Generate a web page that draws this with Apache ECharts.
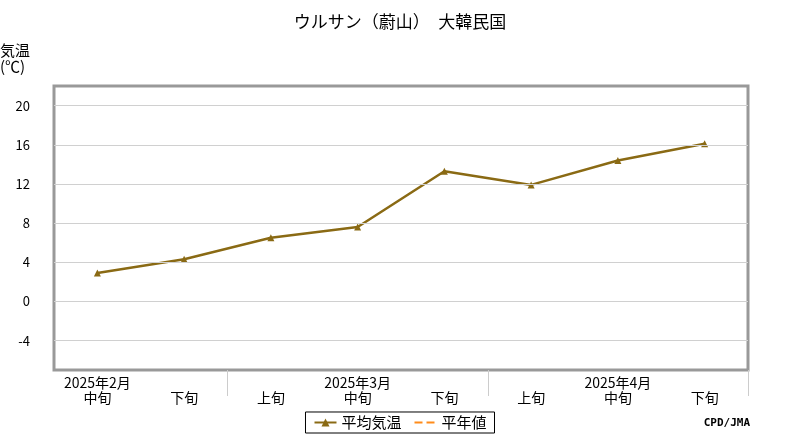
<!DOCTYPE html><html><head><meta charset="utf-8"><script src="https://cdn.jsdelivr.net/npm/echarts@6/dist/echarts.min.js"></script></head><body style="margin:0"><div id="c" style="width:800px;height:440px"></div><script>
const categories=['2025年2月中旬','2025年2月下旬','2025年3月上旬','2025年3月中旬','2025年3月下旬','2025年4月上旬','2025年4月中旬','2025年4月下旬'];
const periodLabels=['2025年2月\n中旬','\n下旬','\n上旬','2025年3月\n中旬','\n下旬','\n上旬','2025年4月\n中旬','\n下旬'];
const avgTemp=[2.9,4.3,6.5,7.6,13.3,11.9,14.4,16.1];
const normal=[];
const yTicks=[-4,0,4,8,12,16,20];
const F='"Noto Sans CJK JP",sans-serif';
const ch=echarts.init(document.getElementById('c'));
ch.setOption({
 animation:false,
 textStyle:{fontFamily:F},
 title:{text:'ウルサン（蔚山）　大韓民国',left:'center',top:8,textStyle:{fontSize:17,fontWeight:'normal',color:'#000',fontFamily:F}},
 graphic:[{type:'text',left:0,top:42,style:{text:'気温\n(℃)',font:'15px '+F,fill:'#000',lineHeight:16}},
  {type:'text',right:50,top:418,style:{text:'CPD/JMA',font:'bold 11px monospace',fill:'#000'}}],
 legend:{bottom:7,left:'center',itemWidth:22,itemHeight:10,borderColor:'#000',borderWidth:1,padding:[3,8],itemGap:12,textStyle:{fontSize:15,color:'#000',fontFamily:F},
  data:['平均気温',{name:'平年値',itemStyle:{opacity:0}}]},
 grid:{left:54,right:52,top:86,bottom:70,show:true,borderColor:'#999',borderWidth:3},
 xAxis:{type:'category',data:categories,boundaryGap:true,
  axisLine:{show:false,onZero:false},
  axisTick:{show:true,length:26,lineStyle:{color:'#ccc'},interval:(i)=>i===2||i===5},
  axisLabel:{interval:0,formatter:(v,i)=>periodLabels[i],fontSize:14,lineHeight:15,color:'#000',margin:5,fontFamily:F}},
 yAxis:{type:'value',min:-7,max:22,splitLine:{show:false},axisTick:{show:false},axisLine:{show:false},
  axisLabel:{customValues:yTicks,fontSize:13,color:'#000',margin:24}},
 series:[
  {name:'平均気温',type:'line',data:avgTemp,symbol:'triangle',symbolSize:7,itemStyle:{color:'#8a6a14'},lineStyle:{color:'#8a6a14',width:2.5},
   markLine:{silent:true,symbol:'none',label:{show:false},lineStyle:{color:'#d0d0d0',type:'solid',width:1},data:yTicks.map(v=>({yAxis:v}))}},
  {name:'平年値',type:'line',data:normal,symbol:'none',itemStyle:{color:'#ff8c1a'},lineStyle:{color:'#ff8c1a',type:'dashed',width:1.5}}
 ]
});
</script></body></html>
